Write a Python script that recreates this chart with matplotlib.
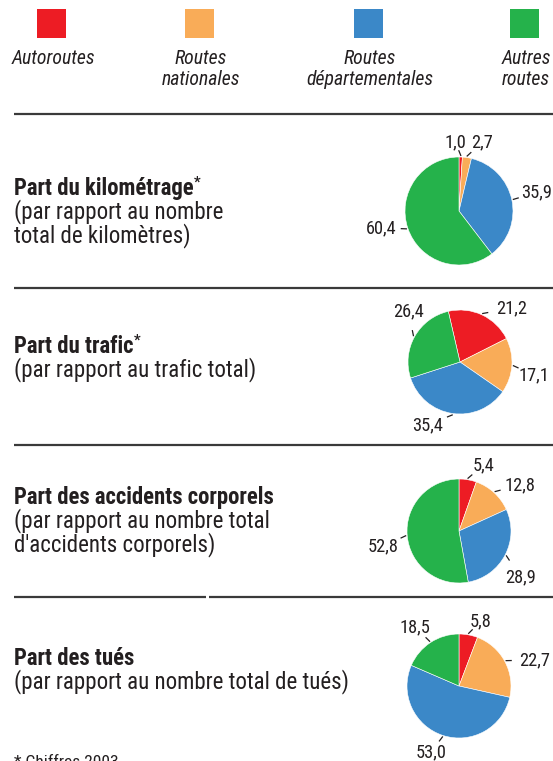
import os
import numpy as np
import matplotlib
matplotlib.use("Agg")
import matplotlib.pyplot as plt
from matplotlib.patches import Rectangle
from matplotlib import font_manager as fm

# ---------------- data ----------------
categories = ["Autoroutes", "Routes\nnationales", "Routes\ndépartementales", "Autres\nroutes"]
km_share = [1.0, 2.7, 35.9, 60.4]
traffic_share = [21.2, 17.1, 35.4, 26.4]
accident_share = [5.4, 12.8, 28.9, 52.8]
killed_share = [5.8, 22.7, 53.0, 18.5]
series = [km_share, traffic_share, accident_share, killed_share]
titles = ["Part du kilométrage", "Part du trafic", "Part des accidents corporels", "Part des tués"]
title_star = [True, True, False, False]
subtitles = ["(par rapport au nombre\ntotal de kilomètres)",
             "(par rapport au trafic total)",
             "(par rapport au nombre total\nd'accidents corporels)",
             "(par rapport au nombre total de tués)"]
footnote = "* Chiffres 2003"

# ---------------- fonts ----------------
_files = sorted({f.fname for f in fm.fontManager.ttflist})


def _find(key, kind):
    for p in _files:
        b = os.path.basename(p).lower()
        if not b.startswith(key):
            continue
        rest = b[len(key):]
        if kind == "regular" and rest in ("-regular.ttf", ".ttf"):
            return p
        if kind == "bold" and rest == "-bold.ttf":
            return p
        if kind == "italic" and rest in ("-italic.ttf", "-oblique.ttf"):
            return p
    return None


FONT = None
for key in ["robotocondensed", "firasanscondensed", "ibmplexsanscondensed",
            "asapcondensed", "dejavusanscondensed"]:
    r, b, i = _find(key, "regular"), _find(key, "bold"), _find(key, "italic")
    if r and b and i:
        FONT = {"regular": r, "bold": b, "italic": i}
        break


def fp(kind, size):
    if FONT is None:
        return fm.FontProperties(family="DejaVu Sans", size=size * 0.85,
                                 weight="bold" if kind == "bold" else "normal",
                                 style="italic" if kind == "italic" else "normal")
    return fm.FontProperties(fname=FONT[kind], size=size)


# ---------------- style / layout ----------------
colors = ["#ED1C24", "#F9AC58", "#3B88C8", "#25B24B"]
TXT = "#231F20"
LINE = "#3A3A3A"
W, H = 553, 761

pie_centers = [(459, 211), (460, 362), (459, 531), (459, 686)]
pie_radius = [54, 52, 52, 52]
start_angles = [90, 103, 90, 90]
label_dist = 1.38
label_nudge = [
    [(-6, 5.5), (12, 5), (5, -3), (-7.5, -7)],
    [(21.5, 11), (2.5, 8), (-22, -8), (11, -15)],
    [(12, 5), (12.5, 7), (-2, 13), (-4.5, 9)],
    [(9, 5.5), (12, 8), (-6, -2), (-4.5, 1)],
]
title_baselines = [195, 353, 504, 665]
line_gap = 23.5
divider_y = [114, 288, 445, 597]
legend_sq_x = [37, 185, 354, 510]
legend_sq = 29

fig = plt.figure(figsize=(W / 100, H / 100), dpi=100)
ax0 = fig.add_axes([0, 0, 1, 1])
ax0.set_xlim(0, W)
ax0.set_ylim(H, 0)
ax0.axis("off")

# legend
for i, (lab, c) in enumerate(zip(categories, colors)):
    x0 = legend_sq_x[i]
    ax0.add_patch(Rectangle((x0, 9), legend_sq, legend_sq, facecolor=c, edgecolor="none"))
    cx = x0 + legend_sq / 2 + 1.5
    for j, part in enumerate(lab.split("\n")):
        ax0.text(cx, 64 + 21 * j, part, ha="center", va="baseline",
                 fontproperties=fp("italic", 14.2), color=TXT)

# dividers
for k, y in enumerate(divider_y):
    if k == 3:
        ax0.plot([14, 206], [y, y], color=LINE, lw=1.6, solid_capstyle="butt")
        ax0.plot([209, W], [y, y], color=LINE, lw=1.6, solid_capstyle="butt")
    else:
        ax0.plot([14, W], [y, y], color=LINE, lw=1.6, solid_capstyle="butt")

fig.canvas.draw()
renderer = fig.canvas.get_renderer()
inv = ax0.transData.inverted()

# titles
for k in range(4):
    yb = title_baselines[k]
    t = ax0.text(14, yb, titles[k], ha="left", va="baseline",
                 fontproperties=fp("bold", 16.4), color=TXT)
    if title_star[k]:
        bb = t.get_window_extent(renderer=renderer)
        x_end = inv.transform((bb.x1, bb.y0))[0]
        ax0.text(x_end + 0.5, yb - 8, "*", ha="left", va="baseline",
                 fontproperties=fp("bold", 10.5), color=TXT)
    for j, part in enumerate(subtitles[k].split("\n")):
        ax0.text(14, yb + line_gap * (j + 1), part, ha="left", va="baseline",
                 fontproperties=fp("regular", 16.5), color=TXT)

ax0.text(14, 755, footnote, ha="left", va="top", fontproperties=fp("regular", 12.5), color=TXT)

# pies
for k, vals in enumerate(series):
    cx, cy = pie_centers[k]
    R = pie_radius[k]
    pax = fig.add_axes([(cx - R) / W, 1 - (cy + R) / H, 2 * R / W, 2 * R / H])
    wedges, _ = pax.pie(vals, colors=colors, startangle=start_angles[k], counterclock=False,
                        radius=1, wedgeprops=dict(edgecolor="white", linewidth=0.4))
    pax.set_xlim(-1, 1)
    pax.set_ylim(-1, 1)
    pax.axis("off")
    for i, w in enumerate(wedges):
        theta = np.deg2rad((w.theta1 + w.theta2) / 2)
        nx, ny = label_nudge[k][i]
        lx = cx + label_dist * R * np.cos(theta) + nx
        ly = cy - label_dist * R * np.sin(theta) + ny
        ax0.text(lx, ly, f"{vals[i]:.1f}".replace(".", ","), ha="center", va="center",
                 fontproperties=fp("regular", 13.2), color=TXT)
        sx = cx + 1.03 * R * np.cos(theta)
        sy = cy - 1.03 * R * np.sin(theta)
        d = np.array([lx - sx, ly - sy])
        d = d / np.linalg.norm(d)
        ax0.plot([sx, sx + 5 * d[0]], [sy, sy + 5 * d[1]], color=TXT, lw=0.9)

fig.savefig("out.png", dpi=100)
